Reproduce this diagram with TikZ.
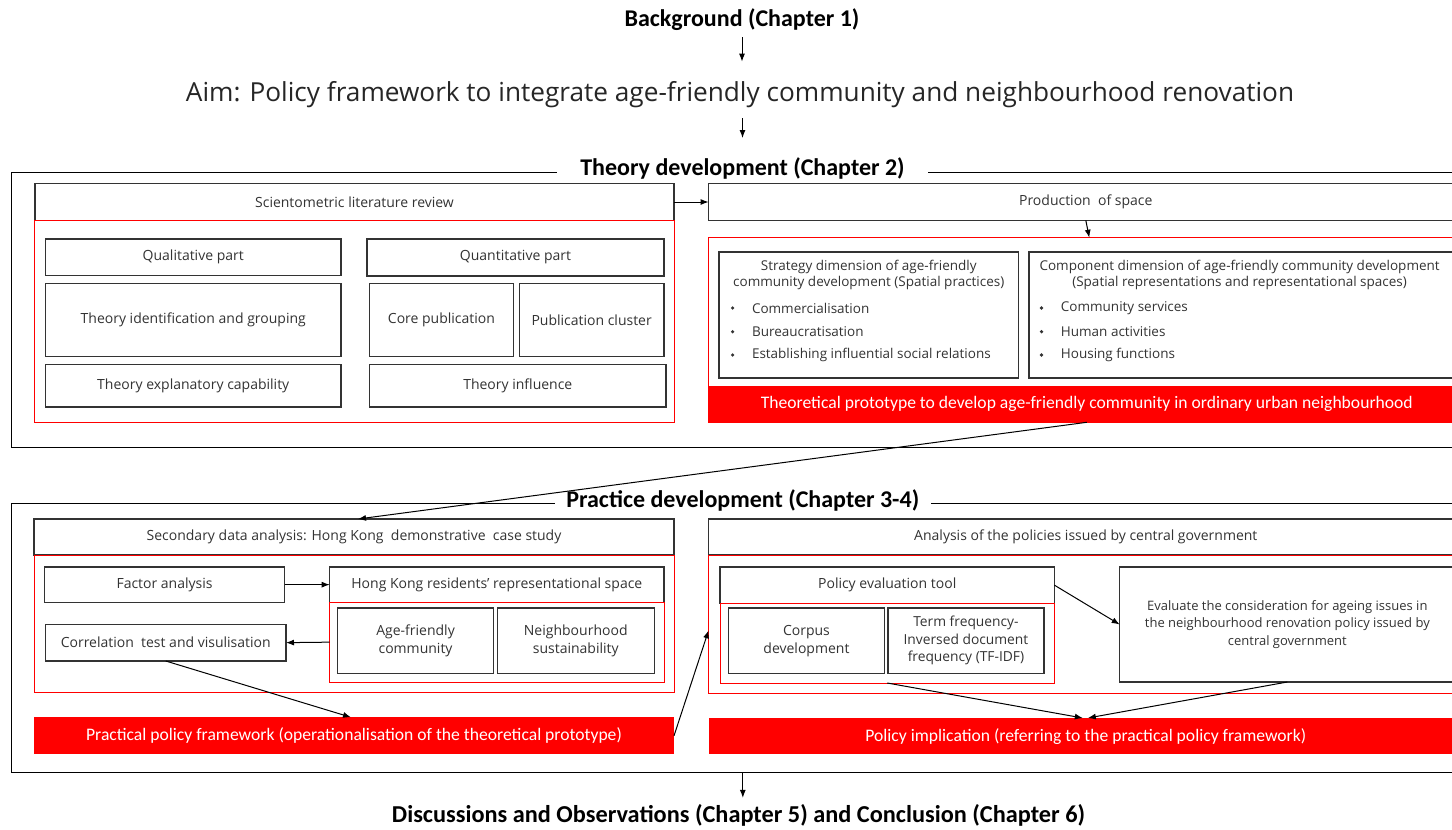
\documentclass[tikz,border=0pt]{standalone}
\usepackage{fontspec}
\setmainfont{Open Sans}
\newfontfamily\titlefont{Carlito}
\usetikzlibrary{arrows.meta}
\newcommand\mkbox[7]{\node[#1, minimum width={(#5)-(#3)}, minimum height={(#6)-(#4)}] (#2) at ({((#3)+(#5))/2},{((#4)+(#6))/2}) {#7};}
\tikzset{
  box/.style={draw=black!80, line width=1.3pt, inner sep=0pt, outer sep=0pt, align=center, text=black!80, font=\fontsize{14}{17.6}\selectfont},
  redbox/.style={draw=red, line width=1pt, inner sep=0pt, outer sep=0pt},
  redbar/.style={fill=red, draw=none, inner sep=0pt, outer sep=0pt, text=white, font=\titlefont\fontsize{17.6}{20}\selectfont},
  frame/.style={draw=black, line width=1.2pt, inner sep=0pt, outer sep=0pt},
  ttl/.style={font=\titlefont\bfseries\fontsize{24}{28}\selectfont, fill=white, inner ysep=2pt, text=black},
  lbl/.style={inner sep=0pt, align=center, text=black!80, font=\fontsize{13.5}{16}\selectfont},
  arr/.style={-{Latex[length=8pt,width=6pt]}, line width=1pt, black},
}
\begin{document}
\begin{tikzpicture}[x=1pt,y=-1pt]
\useasboundingbox (0,0) rectangle (1452,830);
\clip (0,0) rectangle (1452,830);
\fill[white] (0,0) rectangle (1452,830);

% top
\node[font=\titlefont\bfseries\fontsize{24}{28}\selectfont, inner sep=0pt] (bg) at (742,20) {Background (Chapter 1)};
\node[font=\fontsize{26.2}{30}\selectfont, inner sep=0pt, text=black!85] (aim) at (740,95) {Aim: Policy framework to integrate age-friendly community and neighbourhood renovation};

% frames
\mkbox{frame}{tframe}{11.5}{172.3}{1470}{447.7}{}
\node[ttl, inner xsep=23pt] (ttitle) at (742.5,168) {Theory development (Chapter 2)};
\mkbox{frame}{pframe}{11.5}{503.3}{1470}{772.3}{}
\node[ttl, inner xsep=11.5pt] (ptitle) at (742.8,500) {Practice development (Chapter 3-4)};

\draw[arr, shorten <=6pt, shorten >=20pt] (bg.south) -- (bg.south |- aim.north);
\draw[arr, shorten <=10pt, shorten >=17pt] (ttitle |- aim.south) -- (ttitle.north);

% theory left
\mkbox{box}{sci}{35}{183.7}{674}{220.3}{Scientometric literature review}
\mkbox{redbox}{scired}{34}{220.3}{674}{422.3}{}
\mkbox{box}{qual}{45.5}{239}{341}{275.7}{Qualitative part}
\mkbox{box}{quant}{367}{239}{664}{276}{Quantitative part}
\mkbox{box}{tig}{45.5}{283.7}{341}{356.7}{Theory identification and grouping}
\mkbox{box}{core}{369.6}{283.7}{513.3}{356.7}{Core publication}
\mkbox{box}{pclus}{519.3}{283.7}{664}{356.7}{Publication cluster}
\mkbox{box}{tec}{45.5}{364.7}{341}{407}{Theory explanatory capability}
\mkbox{box}{tinf}{369.6}{364.7}{666}{407}{Theory influence}

% theory right
\mkbox{box}{prod}{708.6}{183.7}{1463}{220.3}{Production\ \ of space}
\mkbox{redbox}{prodred}{708.6}{237.7}{1470}{422.3}{}
\mkbox{box}{strat}{719}{252}{1018.5}{378}{}
\mkbox{box}{comp}{1029}{252}{1460}{378}{}
\mkbox{redbar}{proto}{708.6}{385.7}{1465}{422.3}{Theoretical prototype to develop age-friendly community in ordinary urban neighbourhood}

\node[lbl] (stratT) at (868.75,275.3) {Strategy dimension of age-friendly\\community development (Spatial practices)};
\fill[black!80] (732.6,308) circle (1.8) (732.6,331.7) circle (1.8) (732.6,355) circle (1.8);
\node[lbl, anchor=west] (s1) at (751.8,308) {Commercialisation};
\node[lbl, anchor=west] (s2) at (751.8,331.7) {Bureaucratisation};
\node[lbl, anchor=west] (s3) at (751.8,355) {Establishing influential social relations};

\node[lbl] (compT) at (1239.6,275.3) {Component dimension of age-friendly community development\\(Spatial representations and representational spaces)};
\fill[black!80] (1041.5,308) circle (1.8) (1041.5,331.7) circle (1.8) (1041.5,355) circle (1.8);
\node[lbl, anchor=west] (c1) at (1060.7,308) {Community services};
\node[lbl, anchor=west] (c2) at (1060.7,331.7) {Human activities};
\node[lbl, anchor=west] (c3) at (1060.7,355) {Housing functions};

\draw[arr] (sci.east) -- (prod.west);
\draw[arr] (prod.south) -- (prodred.north);

% practice left
\mkbox{box}{sec}{34}{519}{674}{555}{Secondary data analysis: Hong Kong\ \ demonstrative\ \ case study}
\mkbox{redbox}{secred}{34}{555}{674}{692.3}{}
\mkbox{box}{fa}{44.5}{567}{284.7}{602.3}{Factor analysis}
\mkbox{box}{hk}{329.7}{567}{664}{602.3}{Hong Kong residents' representational space}
\mkbox{redbox}{hkred}{329.7}{602.3}{664}{682}{}
\mkbox{box}{afc}{337.5}{608}{493.6}{673.7}{Age-friendly\\community}
\mkbox{box}{ns}{497.2}{608}{654.3}{673.7}{Neighbourhood\\sustainability}
\mkbox{box}{corr}{45.5}{624.3}{286}{661}{Correlation\ \ test and visulisation}
\mkbox{redbar}{ppf}{34}{717.3}{674}{754.3}{Practical policy framework (operationalisation of the theoretical prototype)}

% practice right
\mkbox{box}{ana}{708.6}{519}{1463}{555}{Analysis of the policies issued by central government}
\mkbox{redbox}{anared}{708.6}{555}{1470}{693.7}{}
\mkbox{box}{pet}{720}{567}{1054.4}{603.3}{Policy evaluation tool}
\mkbox{redbox}{petred}{720}{603.3}{1054.4}{683}{}
\mkbox{box}{corpus}{728.3}{608}{884.6}{673.7}{Corpus\\development}
\mkbox{box, font=\fontsize{13.8}{17.5}\selectfont}{tfidf}{888}{608}{1043.9}{673.7}{Term frequency-\\Inversed document\\frequency (TF-IDF)}
\mkbox{box, font=\fontsize{13}{17.6}\selectfont}{eval}{1119.7}{567}{1455}{682}{Evaluate the consideration for ageing issues in\\the neighbourhood renovation policy issued by\\central government}
\mkbox{redbar}{pi}{708.6}{718}{1463}{754.3}{Policy implication (referring to the practical policy framework)}

% connectors
\draw[arr] (proto.south) -- ([xshift=4pt]sec.north);
\draw[arr] (fa.east) -- (hk.west);
\draw[arr] (hkred.west) -- (corr.east);
\draw[arr] (corr.south) -- ([xshift=-3pt]ppf.north);
\draw[arr] (ppf.east) -- ([yshift=-6pt]anared.west);
\draw[arr] (pet.east) -- (eval.west);
\draw[arr] (petred.south) -- ([xshift=-3pt]pi.north);
\draw[arr] (eval.south) -- ([xshift=2pt]pi.north);

% bottom
\node[font=\titlefont\bfseries\fontsize{24.3}{28}\selectfont, inner sep=0pt] (final) at (738.5,815) {Discussions and Observations (Chapter 5) and Conclusion (Chapter 6)};
\draw[arr, shorten >=6pt] (ptitle |- pframe.south) -- (ptitle |- final.north);
\end{tikzpicture}
\end{document}
